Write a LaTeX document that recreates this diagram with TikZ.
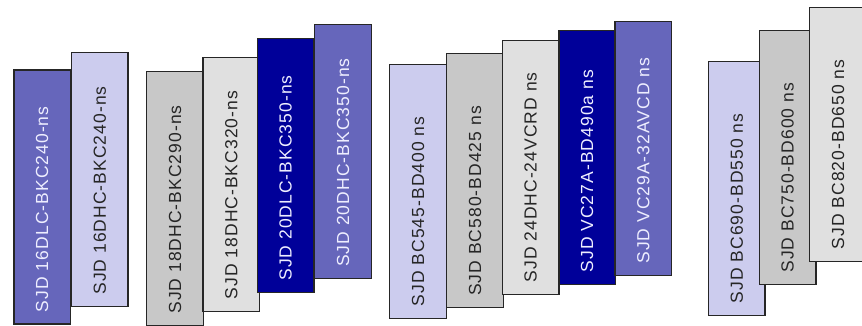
\documentclass[tikz,border=0pt]{standalone}
\usepackage{fontspec}
\newfontfamily\blkfont[LetterSpace=6]{Liberation Sans}
\usepackage{tikz}
\definecolor{lav}{HTML}{CCCCEE}
\definecolor{gry}{HTML}{C8C8C8}
\definecolor{lgry}{HTML}{E0E0E0}
\definecolor{dkblue}{HTML}{000099}
\definecolor{mdblue}{HTML}{6666BB}
\definecolor{paletxt}{HTML}{EEEEFF}
\tikzstyle{blk}=[rectangle, rotate=90, draw=black!85, line width=1.3pt, minimum height=56.5pt, text width=230pt, inner xsep=12pt, align=left, font=\blkfont\fontsize{17.5}{17.5}\selectfont]
\tikzstyle{lavbox}=[blk, fill=lav, text=black!85]
\tikzstyle{grybox}=[blk, fill=gry, text=black!85]
\tikzstyle{lgrybox}=[blk, fill=lgry, text=black!85]
\tikzstyle{dkbox}=[blk, fill=dkblue, text=paletxt]
\tikzstyle{mdbox}=[blk, fill=mdblue, text=paletxt]

\begin{document}
\begin{tikzpicture}[x=1pt,y=1pt]
				\useasboundingbox (0,0) rectangle (862,325);
				
				%Group 16
				\draw (42.1,128) node[mdbox] (b16dlc) {SJD 16DLC-BKC240-ns};
				\draw (99.8,145.3) node[lavbox] (b16dhc) {SJD 16DHC-BKC240-ns};
				
				%Group 18/20
				\draw (175,126.3) node[grybox] (b18dhc290) {SJD 18DHC-BKC290-ns};
				\draw (231.3,140.8) node[lgrybox] (b18dhc320) {SJD 18DHC-BKC320-ns};
				\draw (285.7,159.3) node[dkbox] (b20dlc) {SJD 20DLC-BKC350-ns};
				\draw (343,173.2) node[mdbox] (b20dhc) {SJD 20DHC-BKC350-ns};
				
				%Group BC/VC
				\draw (418,133.8) node[lavbox] (bc545) {SJD BC545-BD400 ns};
				\draw (475,144.2) node[grybox] (bc580) {SJD BC580-BD425 ns};
				\draw (530.7,157.5) node[lgrybox] (b24dhc) {SJD 24DHC-24VCRD ns};
				\draw (587.2,167.5) node[dkbox] (vc27a) {SJD VC27A-BD490a ns};
				\draw (643.3,176.3) node[mdbox] (vc29a) {SJD VC29A-32AVCD ns};
				
				%Group BC large
				\draw (736.8,136.7) node[lavbox] (bc690) {SJD BC690-BD550 ns};
				\draw (787.7,167.3) node[grybox] (bc750) {SJD BC750-BD600 ns};
				\draw (838,190.8) node[lgrybox] (bc820) {SJD BC820-BD650 ns};
			\end{tikzpicture}
\end{document}
